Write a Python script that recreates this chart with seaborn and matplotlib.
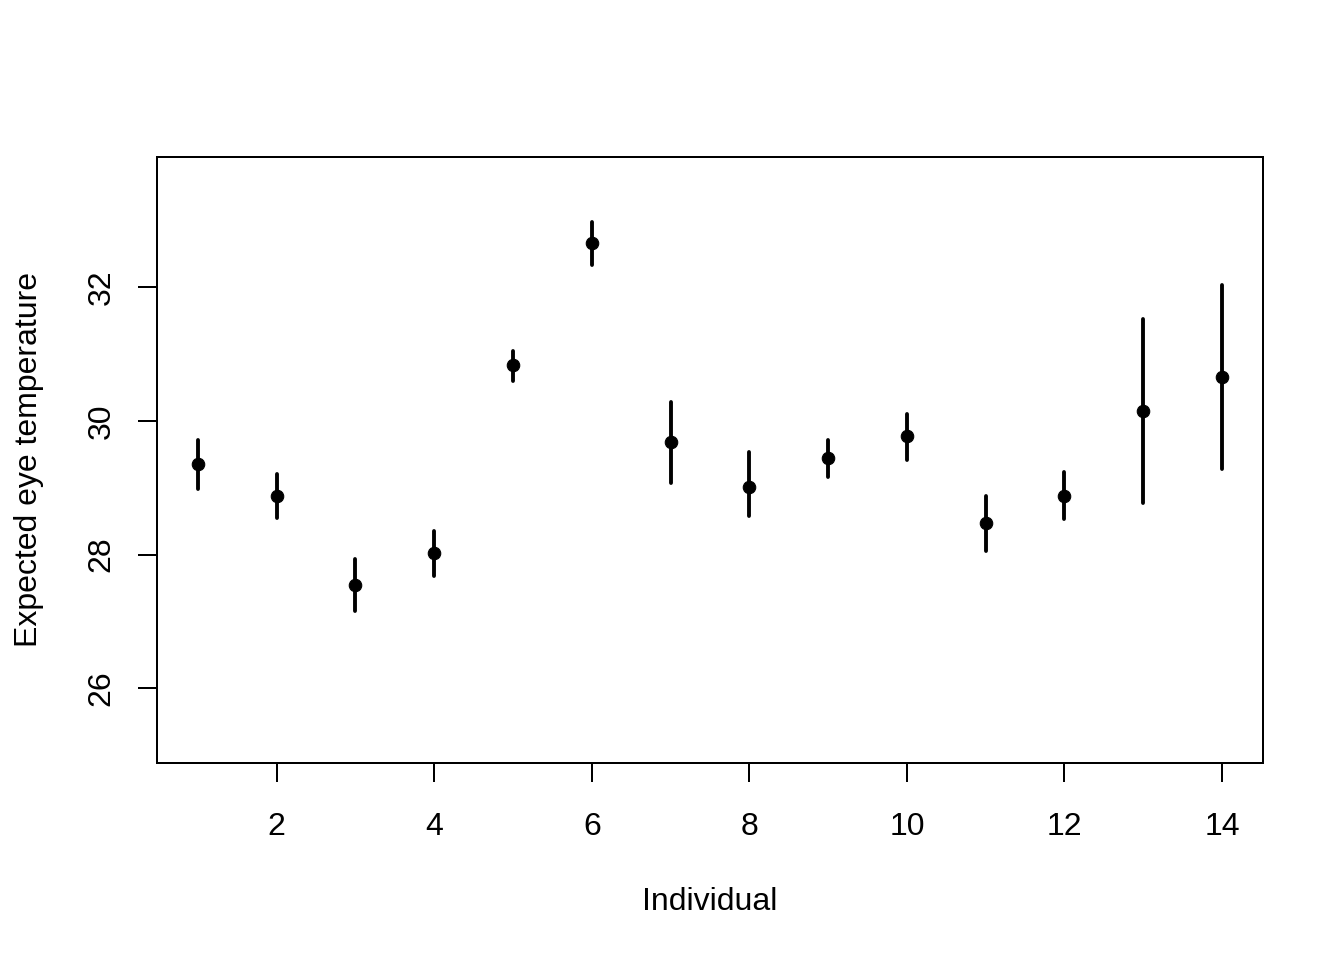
import numpy as np
import pandas as pd
import seaborn as sns
import matplotlib
matplotlib.use("Agg")
import matplotlib.pyplot as plt

# Expected eye temperature per individual, with interval ends
individual = list(range(1, 15))
expected = [29.35, 28.87, 27.55, 28.02, 30.83, 32.66, 29.68, 29.01,
            29.44, 29.77, 28.47, 28.88, 30.15, 30.66]
lower = [28.98, 28.55, 27.16, 27.68, 30.60, 32.33, 29.07, 28.57,
         29.16, 29.42, 28.06, 28.53, 28.77, 29.28]
upper = [29.72, 29.20, 27.93, 28.35, 31.04, 32.97, 30.29, 29.53,
         29.72, 30.11, 28.88, 29.23, 31.52, 32.03]

x_ticks = [2, 4, 6, 8, 10, 12, 14]
y_ticks = [26, 28, 30, 32]

df = pd.DataFrame({"Individual": individual, "Expected": expected,
                   "lower": lower, "upper": upper})

sns.set_style("ticks")
plt.rcParams["font.family"] = ["Liberation Sans", "DejaVu Sans"]
plt.rcParams["text.color"] = "black"
plt.rcParams["axes.labelcolor"] = "black"

fig = plt.figure(figsize=(7, 5), dpi=192)
ax = fig.add_axes([0.1168, 0.2052, 0.9397 - 0.1168, 0.8365 - 0.2052])

ax.vlines(df["Individual"], df["lower"], df["upper"], color="black",
          linewidth=1.45, capstyle="round")
sns.scatterplot(data=df, x="Individual", y="Expected", ax=ax, color="black",
                s=22, edgecolor="black", linewidth=0.4, zorder=3)

ax.set_xlim(0.48, 14.52)
ax.set_ylim(24.88, 33.95)
ax.set_xticks(x_ticks)
ax.set_yticks(y_ticks)
ax.set_xticklabels([str(t) for t in x_ticks])
ax.set_yticklabels([str(t) for t in y_ticks])

for side in ["top", "right", "left", "bottom"]:
    ax.spines[side].set_visible(True)
    ax.spines[side].set_linewidth(0.75)
    ax.spines[side].set_color("black")

ax.tick_params(axis="both", direction="out", length=7.2, width=0.75,
               color="black", labelsize=12, labelcolor="black")
ax.tick_params(axis="x", pad=11)
ax.tick_params(axis="y", pad=8, labelrotation=90)
for lab in ax.get_yticklabels():
    lab.set_va("center")

ax.set_xlabel("Individual", fontsize=12, labelpad=17)
ax.set_ylabel("Expected eye temperature", fontsize=12, labelpad=16)

fig.savefig("out.png", dpi=192, facecolor="white")
